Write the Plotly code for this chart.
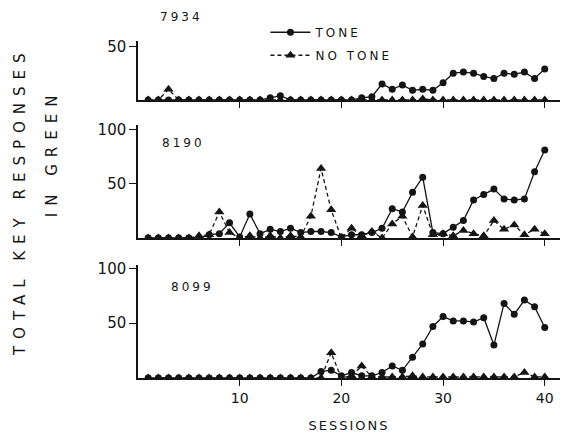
import plotly.graph_objects as go

sessions = list(range(1, 41))

# Bird 7934
tone_7934 = [0, 0, 0, 0, 0, 0, 0, 0, 0, 0, 0, 0, 2, 4, 0, 0, 0, 0, 0, 0,
             0, 2, 3, 15, 10, 14, 9, 10, 9, 16, 25, 26, 25, 22, 20, 25, 24, 26, 20, 29]
notone_7934 = [0, 0, 10, 0, 0, 0, 0, 0, 0, 0, 0, 0, 0, 0, 0, 0, 0, 0, 0, 0,
               0, 0, 0, 0, 0, 0, 0, 1, 0, 0, 0, 0, 0, 0, 0, 0, 0, 0, 0, 0]
# Bird 8190
tone_8190 = [0, 0, 0, 0, 0, 0, 3, 4, 14, 1, 22, 4, 8, 6, 9, 5, 6, 6, 5, 1,
             3, 3, 5, 9, 27, 24, 42, 56, 5, 4, 10, 16, 35, 40, 45, 36, 35, 36, 61, 81]
notone_8190 = [0, 0, 0, 0, 0, 2, 3, 24, 5, 0, 2, 0, 2, 0, 2, 1, 20, 64, 26, 0,
               9, 2, 6, 0, 13, 20, 1, 30, 3, 4, 2, 7, 4, 2, 16, 8, 12, 3, 8, 4]
# Bird 8099
tone_8099 = [0, 0, 0, 0, 0, 0, 0, 0, 0, 0, 0, 0, 0, 0, 0, 0, 0, 6, 7, 2,
             5, 2, 2, 5, 11, 7, 19, 31, 47, 56, 52, 52, 51, 55, 30, 68, 58, 71, 65, 46]
notone_8099 = [0, 0, 0, 0, 0, 0, 0, 0, 0, 0, 0, 0, 0, 0, 0, 0, 0, 0, 23, 0,
               2, 11, 1, 1, 1, 1, 2, 1, 1, 1, 1, 1, 1, 1, 1, 1, 1, 5, 1, 1]

birds = ["7934", "8190", "8099"]
tone_series = [tone_7934, tone_8190, tone_8099]
notone_series = [notone_7934, notone_8190, notone_8099]
y_ranges = [[0, 55], [0, 104], [0, 103]]
y_ticks = [[50], [50, 100], [50, 100]]
x_ticks = [10, 20, 30, 40]

INK = "#141414"
FONT = "DejaVu Sans"


def spaced(s, px):
    return '<span style="letter-spacing:%dpx">%s</span>' % (px, s)


fig = go.Figure()

# plot area 138..560 px horizontally, 41..378 px vertically
domains = [[0.825, 1.0], [0.4154, 0.7507], [0.0, 0.3353]]

for i in range(3):
    ax = "" if i == 0 else str(i + 1)
    fig.add_trace(go.Scatter(
        x=sessions, y=tone_series[i], mode="lines+markers",
        name=spaced("TONE", 3), legendgroup="tone", showlegend=(i == 0),
        line=dict(color=INK, width=1.3),
        marker=dict(symbol="circle", size=7, color=INK),
        xaxis="x" + ax, yaxis="y" + ax))
    fig.add_trace(go.Scatter(
        x=sessions, y=notone_series[i], mode="lines+markers",
        name=spaced("NO TONE", 3), legendgroup="notone", showlegend=(i == 0),
        line=dict(color=INK, width=1.3, dash="4px,3px"),
        marker=dict(symbol="triangle-up", size=9, color=INK),
        xaxis="x" + ax, yaxis="y" + ax))

    xa = dict(domain=[0, 1], range=[0, 41.5], anchor="y" + ax,
              showline=True, linecolor=INK, linewidth=1.5,
              ticks="outside", ticklen=6, tickwidth=1.3, tickcolor=INK,
              tickvals=x_ticks, showgrid=False, zeroline=False,
              showticklabels=(i == 2),
              tickfont=dict(family=FONT, size=14, color=INK))
    ya = dict(domain=domains[i], range=y_ranges[i], anchor="x" + ax,
              showline=True, linecolor=INK, linewidth=1.5,
              ticks="outside", ticklen=7, tickwidth=1.3, tickcolor=INK,
              tickvals=y_ticks[i], showgrid=False, zeroline=False,
              tickfont=dict(family=FONT, size=15, color=INK))
    if i == 2:
        xa["title"] = dict(
            text=spaced("SESSIONS", 2),
            font=dict(family=FONT, size=13, color=INK), standoff=16)
    fig.update_layout(**{"xaxis" + ax: xa, "yaxis" + ax: ya})

label_pos = [(0.102, 1.071), (0.107, 0.697), (0.130, 0.270)]
for name, (lx, ly) in zip(birds, label_pos):
    fig.add_annotation(
        x=lx, y=ly, xref="paper", yref="paper", showarrow=False,
        xanchor="center", yanchor="middle",
        text=spaced(name, 3),
        font=dict(family=FONT, size=12, color=INK))

fig.add_annotation(
    x=-0.2796, y=0.525, xref="paper", yref="paper", showarrow=False,
    xanchor="center", yanchor="middle", textangle=-90,
    text=spaced("TOTAL KEY RESPONSES", 7),
    font=dict(family=FONT, size=15, color=INK))
fig.add_annotation(
    x=-0.2038, y=0.67, xref="paper", yref="paper", showarrow=False,
    xanchor="center", yanchor="middle", textangle=-90,
    text=spaced("IN GREEN", 7),
    font=dict(family=FONT, size=15, color=INK))

fig.update_layout(
    width=565, height=436,
    margin=dict(l=138, r=5, t=41, b=58),
    paper_bgcolor="white", plot_bgcolor="white",
    showlegend=True,
    legend=dict(x=0.302, y=1.069, xanchor="left", yanchor="top",
                bgcolor="rgba(0,0,0,0)", itemwidth=40,
                font=dict(family=FONT, size=12, color=INK),
                tracegroupgap=4),
)

fig.write_html(
    "out.html",
    config={"displayModeBar": False},
    post_script="document.body.style.margin='0px';document.body.style.padding='0px';",
)
